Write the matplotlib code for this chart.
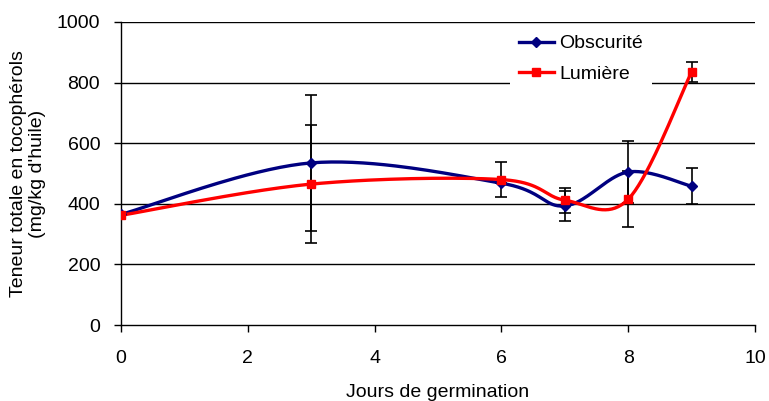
import numpy as np
import matplotlib
matplotlib.use("Agg")
import matplotlib.pyplot as plt
from matplotlib.lines import Line2D

plt.rcParams['font.family'] = ['Liberation Sans', 'DejaVu Sans']

days = [0, 3, 6, 7, 8, 9]
obscurite = [365, 535, 468, 393, 505, 458]
obscurite_err = [0, 225, 0, 50, 103, 60]
lumiere = [362, 465, 480, 412, 415, 835]
lumiere_err = [0, 195, 58, 41, 93, 32]


def smooth(x, y, n=40):
    x = np.asarray(x, float); y = np.asarray(y, float)
    px = np.concatenate([[x[0]], x, [x[-1]]])
    py = np.concatenate([[y[0]], y, [y[-1]]])
    xs, ys = [], []
    t = np.linspace(0, 1, n)
    for i in range(1, len(px) - 2):
        p0 = np.array([px[i], py[i]]); p3 = np.array([px[i + 1], py[i + 1]])
        p1 = p0 + (np.array([px[i + 1], py[i + 1]]) - np.array([px[i - 1], py[i - 1]])) / 6
        p2 = p3 - (np.array([px[i + 2], py[i + 2]]) - np.array([px[i], py[i]])) / 6
        b = ((1 - t) ** 3)[:, None] * p0 + (3 * (1 - t) ** 2 * t)[:, None] * p1 + \
            (3 * (1 - t) * t ** 2)[:, None] * p2 + (t ** 3)[:, None] * p3
        xs.extend(b[:, 0]); ys.extend(b[:, 1])
    return xs, ys


FS = 14
fig = plt.figure(figsize=(7.69, 4.01), dpi=100)
ax = fig.add_axes([121 / 769, 1 - 325 / 401, (755 - 121) / 769, (325 - 22) / 401])

for v in range(200, 1001, 200):
    ax.axhline(v, color='black', lw=1.0, zorder=0)

blue = '#000080'
red = '#ff0000'
ax.errorbar(days, obscurite, yerr=obscurite_err, fmt='none', ecolor='black', elinewidth=1.2, capsize=4, capthick=1.2, zorder=2)
ax.errorbar(days, lumiere, yerr=lumiere_err, fmt='none', ecolor='black', elinewidth=1.2, capsize=4, capthick=1.2, zorder=2)

sx, sy = smooth(days, obscurite)
ax.plot(sx, sy, color=blue, lw=2.4, zorder=3)
ax.plot(days, obscurite, ls='none', marker='D', ms=5, color=blue, zorder=4)
sx, sy = smooth(days, lumiere)
ax.plot(sx, sy, color=red, lw=2.4, zorder=3)
ax.plot(days, lumiere, ls='none', marker='s', ms=6, color=red, zorder=4)

handles = [Line2D([], [], color=blue, lw=2.4, marker='D', ms=5),
           Line2D([], [], color=red, lw=2.4, marker='s', ms=6)]
leg = ax.legend(handles, ['Obscurité', 'Lumière'], loc='upper left',
                bbox_to_anchor=((510 - 121) / 634, 1 - 4 / 303), borderaxespad=0,
                frameon=True, fontsize=FS, handlelength=1.8, handletextpad=0.3,
                borderpad=0.45, labelspacing=0.65, fancybox=False)
leg.get_frame().set_edgecolor('white')
leg.get_frame().set_facecolor('white')
leg.get_frame().set_alpha(1)
leg.get_frame().set_linewidth(0)

ax.set_xlim(0, 10)
ax.set_ylim(0, 1000)
ax.set_xticks(range(0, 11, 2))
ax.set_yticks(range(0, 1001, 200))
ax.tick_params(direction='out', length=5, width=1, labelsize=FS, colors='black')
ax.tick_params(axis='x', pad=13)
ax.tick_params(axis='y', pad=10)
ax.spines['top'].set_visible(False)
ax.spines['right'].set_visible(False)
ax.spines['left'].set_linewidth(1)
ax.spines['bottom'].set_linewidth(1)

ax.set_xlabel('Jours de germination', fontsize=FS, labelpad=12)
ax.set_ylabel("Teneur totale en tocophérols\n(mg/kg d'huile)", fontsize=FS, labelpad=8, linespacing=1.1)

fig.savefig('out.png', dpi=100)
